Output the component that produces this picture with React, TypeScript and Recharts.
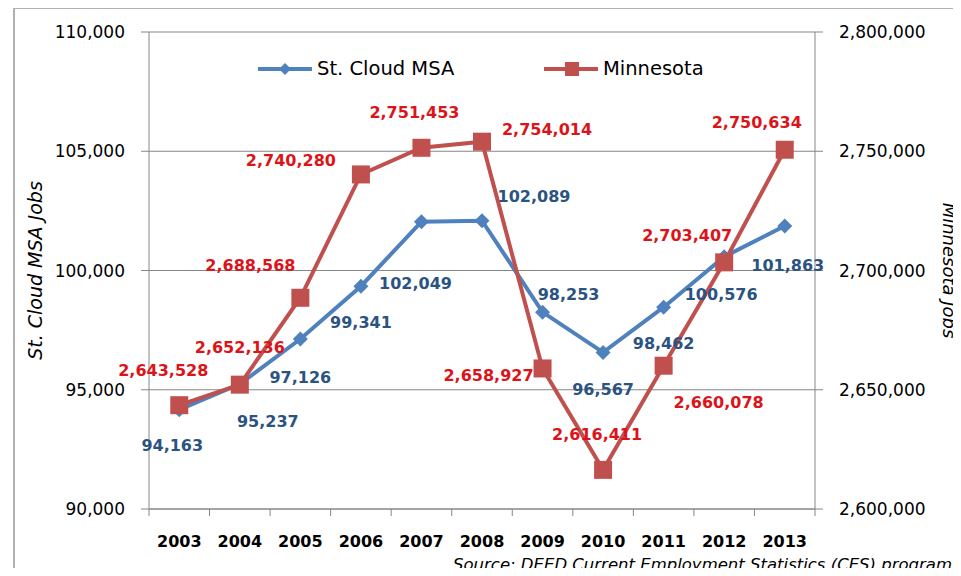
import React from 'react';
import { LineChart, Line, XAxis, YAxis, CartesianGrid, LabelList } from 'recharts';

const years = ['2003', '2004', '2005', '2006', '2007', '2008', '2009', '2010', '2011', '2012', '2013'];
const stCloudJobs = [94163, 95237, 97126, 99341, 102049, 102089, 98253, 96567, 98462, 100576, 101863];
const minnesotaJobs = [2643528, 2652136, 2688568, 2740280, 2751453, 2754014, 2658927, 2616411, 2660078, 2703407, 2750634];
const leftTicks = [90000, 95000, 100000, 105000, 110000];
const rightTicks = [2600000, 2650000, 2700000, 2750000, 2800000];

// where each data label sits relative to its point (px)
const stCloudLabelShift = [[-7, 36], [28, 37], [0, 38], [0, 36], [-6, 62], [52, -24], [26, -18], [0, 37], [0, 36], [-3, 38], [3, 39]];
const minnesotaLabelShift = [[-16, -35], [0, -37], [-50, -32], [-70, -14], [-7, -35], [65, -12], [-54, 7], [-6, -35], [55, 37], [-37, -27], [-28, -27]];

const BLUE = '#4F81BD';
const RED = '#C0504D';
const GRID = '#868686';
const FONT = '"DejaVu Sans", sans-serif';

const data = years.map((year, i) => ({ year, stCloud: stCloudJobs[i], minnesota: minnesotaJobs[i] }));

const fmt = (v: number) => v.toLocaleString('en-US');

const Diamond = (props: any) => {
  const { cx, cy, index } = props;
  if (cx == null || cy == null) return <g key={index} />;
  return <path key={index} d={`M${cx},${cy - 7.5}L${cx + 7.5},${cy}L${cx},${cy + 7.5}L${cx - 7.5},${cy}Z`} fill={BLUE} />;
};

const Square = (props: any) => {
  const { cx, cy, index } = props;
  if (cx == null || cy == null) return <g key={index} />;
  return <rect key={index} x={cx - 9} y={cy - 9} width={18} height={18} fill={RED} />;
};

const makeLabel = (shift: number[][], color: string) => (props: any) => {
  const { x, y, value, index } = props;
  const [dx, dy] = shift[index] || [0, 0];
  return (
    <text x={x + dx} y={y + dy} textAnchor="middle" dominantBaseline="central"
      fill={color} fontSize={16} fontWeight="bold" fontFamily={FONT}>
      {fmt(value)}
    </text>
  );
};

const YearTick = (props: any) => {
  const { x, y, payload, index, visibleTicksCount } = props;
  const half = payload.offset || 30.2;
  return (
    <g>
      <line x1={x - half} y1={y} x2={x - half} y2={y + 7} stroke={GRID} />
      {index === visibleTicksCount - 1 && <line x1={x + half} y1={y} x2={x + half} y2={y + 7} stroke={GRID} />}
      <text x={x} y={y + 32} textAnchor="middle" dominantBaseline="central"
        fill="#000" fontSize={16} fontWeight="bold" fontFamily={FONT}>
        {payload.value}
      </text>
    </g>
  );
};

const AxisTitle = ({ viewBox, text, dx, angle, size }: any) => {
  const cx = viewBox.x + dx;
  const cy = viewBox.y + viewBox.height / 2;
  return (
    <text x={cx} y={cy} transform={`rotate(${angle} ${cx} ${cy})`} textAnchor="middle" dominantBaseline="central"
      fontSize={size} fontStyle="italic" fontFamily={FONT} fill="#000">
      {text}
    </text>
  );
};

const legendItems = [
  { name: 'St. Cloud MSA', color: BLUE, shape: 'diamond', left: 258 },
  { name: 'Minnesota', color: RED, shape: 'square', left: 544 },
];

export default function App() {
  return (
    <div style={{ position: 'relative', margin: -8, width: 961, height: 576, overflow: 'hidden', background: '#fff', fontFamily: FONT }}>
      <div style={{ position: 'absolute', left: 13, top: 7, width: 960, height: 580, borderLeft: '2px solid #B0B0B0', borderTop: '2px solid #B0B0B0' }} />
      <LineChart width={961} height={576} data={data} margin={{ top: 32, right: 66, bottom: 17, left: 69 }}
        style={{ fontFamily: FONT }}>
        <CartesianGrid yAxisId="left" vertical={false} stroke={GRID} />
        <XAxis dataKey="year" scale="band" tickLine={false} tickSize={0} tickMargin={0} height={50}
          axisLine={{ stroke: GRID }} tick={<YearTick />} interval={0} />
        <YAxis yAxisId="left" domain={[90000, 110000]} ticks={leftTicks} tickFormatter={fmt} width={80}
          tickSize={8} tickMargin={16} axisLine={{ stroke: GRID }} tickLine={{ stroke: GRID }}
          tick={{ fill: '#000', fontSize: 17 }}
          label={{ content: (p: any) => <AxisTitle {...p} text="St. Cloud MSA Jobs" dx={-34} angle={-90} size={19} /> }} />
        <YAxis yAxisId="right" orientation="right" domain={[2600000, 2800000]} ticks={rightTicks} tickFormatter={fmt}
          width={80} tickSize={8} tickMargin={16} axisLine={{ stroke: GRID }} tickLine={{ stroke: GRID }}
          tick={{ fill: '#000', fontSize: 17 }}
          label={{ content: (p: any) => <AxisTitle {...p} text="Minnesota Jobs" dx={134} angle={90} size={18} /> }} />
        <Line yAxisId="left" dataKey="stCloud" name="St. Cloud MSA" stroke={BLUE} strokeWidth={4}
          dot={Diamond} activeDot={false} isAnimationActive={false}>
          <LabelList dataKey="stCloud" content={makeLabel(stCloudLabelShift, '#2B5382')} />
        </Line>
        <Line yAxisId="right" dataKey="minnesota" name="Minnesota" stroke={RED} strokeWidth={4}
          dot={Square} activeDot={false} isAnimationActive={false}>
          <LabelList dataKey="minnesota" content={makeLabel(minnesotaLabelShift, '#DC1419')} />
        </Line>
      </LineChart>
      {legendItems.map((item) => (
        <div key={item.name} style={{ position: 'absolute', left: item.left, top: 57, height: 24, display: 'flex', alignItems: 'center' }}>
          <svg width={54} height={24}>
            <line x1={0} y1={12} x2={54} y2={12} stroke={item.color} strokeWidth={4} />
            {item.shape === 'diamond'
              ? <path d="M27,6L33,12L27,18L21,12Z" fill={item.color} />
              : <rect x={21} y={5} width={14} height={14} fill={item.color} />}
          </svg>
          <span style={{ marginLeft: 5, fontSize: 19.5, color: '#000', lineHeight: '24px' }}>{item.name}</span>
        </div>
      ))}
      <div style={{ position: 'absolute', left: 453, top: 555, fontSize: 16.5, fontStyle: 'italic', whiteSpace: 'nowrap', color: '#000', lineHeight: '20px' }}>
        Source: DEED Current Employment Statistics (CES) program
      </div>
    </div>
  );
}
